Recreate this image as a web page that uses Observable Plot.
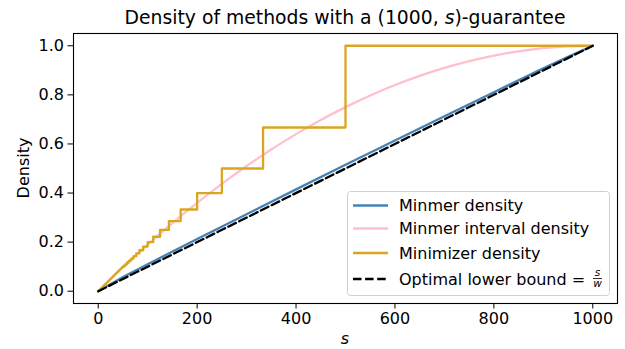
<!DOCTYPE html>
<html>
<head>
<meta charset="utf-8">
<script src="https://cdn.jsdelivr.net/npm/d3@7"></script>
<script src="https://cdn.jsdelivr.net/npm/@observablehq/plot@0.6"></script>
<style>
  body { margin: 0; background: #fff; }
  svg { display: block; }
  svg, svg text, svg g { font-family: "DejaVu Sans" !important; }
</style>
</head>
<body>
<div id="chart"></div>
<script>
// ---- data ----
const xTicks = [0, 200, 400, 600, 800, 1000];
const yTicks = [0.0, 0.2, 0.4, 0.6, 0.8, 1.0];

// Optimal lower bound s/w
const boundS = [0, 1000];
const boundD = [0, 1.0];

// Minmer density (slightly above the bound)
const minmerS = [0, 50, 100, 200, 300, 400, 500, 600, 700, 800, 900, 950, 1000];
const minmerD = [0, 0.058, 0.11, 0.213, 0.314, 0.415, 0.515, 0.614, 0.713, 0.811, 0.908, 0.955, 1.0];

// Minmer interval density (smooth concave curve)
const intervalS = [0, 50, 100, 150, 200, 250, 300, 350, 400, 450, 500, 550, 600, 650, 700, 750, 800, 850, 900, 950, 1000];
const intervalD = [0, 0.0975, 0.19, 0.2775, 0.36, 0.4375, 0.51, 0.5775, 0.64, 0.6975, 0.75, 0.7975, 0.84, 0.8775, 0.91, 0.9375, 0.96, 0.9775, 0.99, 0.9975, 1.0];

// Minimizer density: near-linear ramp for small s, then visible steps
const rampS = [0, 50];
const rampD = [0, 0.1];
const stepS = [50, 52.6, 55.6, 58.8, 62.5, 66.7, 71.4, 76.9, 83.3, 90.9, 100, 111.1, 125, 142.9, 166.7, 200, 250, 333.3, 500, 1000];
const stepD = [0.1, 0.105, 0.111, 0.118, 0.125, 0.133, 0.143, 0.154, 0.167, 0.182, 0.2, 0.222, 0.25, 0.286, 0.333, 0.4, 0.5, 0.667, 1.0, 1.0];

const legendLabels = ["Minmer density", "Minmer interval density", "Minimizer density", "Optimal lower bound = "];
const colors = {minmer: "#4682b4", interval: "#ffc0cb", minimizer: "#daa520", bound: "#000000"};

const zip = (xs, ys) => xs.map((x, i) => ({x, y: ys[i]}));

const W = 625, H = 349;
const mL = 73, mR = 8, mT = 33, mB = 46;
const lw = 2.3;
const dash = "8.5,3.6";
const FF = "DejaVu Sans";
const FS = 16;

const chart = Plot.plot({
  width: W,
  height: H,
  marginLeft: mL,
  marginRight: mR,
  marginTop: mT,
  marginBottom: mB,
  style: {fontFamily: FF, fontSize: FS + "px", color: "#000", background: "#fff"},
  x: {domain: [-50, 1050], label: null},
  y: {domain: [-0.05, 1.05], label: null},
  marks: [
    Plot.line(zip(minmerS, minmerD), {x: "x", y: "y", stroke: colors.minmer, strokeWidth: lw}),
    Plot.line(zip(intervalS, intervalD), {x: "x", y: "y", stroke: colors.interval, strokeWidth: lw, curve: "natural"}),
    Plot.line(zip(rampS, rampD), {x: "x", y: "y", stroke: colors.minimizer, strokeWidth: lw}),
    Plot.line(zip(stepS, stepD), {x: "x", y: "y", stroke: colors.minimizer, strokeWidth: lw, curve: "step-after"}),
    Plot.line(zip(boundS, boundD), {x: "x", y: "y", stroke: colors.bound, strokeWidth: lw, strokeDasharray: dash}),
    Plot.frame({stroke: "#000", strokeWidth: 1.1}),
    Plot.axisX({ticks: xTicks, tickSize: 5.5, tickPadding: 4, tickFormat: d => String(d), fontSize: FS, label: null}),
    Plot.axisY({ticks: yTicks, tickSize: 5.5, tickPadding: 4, tickFormat: d => d.toFixed(1), fontSize: FS, label: null})
  ]
});

document.getElementById("chart").appendChild(chart);

const svg = d3.select(chart);
// Title
svg.append("text")
  .attr("x", (mL + W - mR) / 2).attr("y", 24)
  .attr("text-anchor", "middle")
  .attr("font-family", FF)
  .attr("font-size", 18.8)
  .attr("fill", "#000")
  .call(t => {
    t.append("tspan").text("Density of methods with a (1000, ");
    t.append("tspan").attr("font-style", "italic").text("s");
    t.append("tspan").text(")-guarantee");
  });
// Y label
svg.append("text")
  .attr("transform", `translate(29, ${(mT + H - mB) / 2}) rotate(-90)`)
  .attr("text-anchor", "middle")
  .attr("font-family", FF)
  .attr("font-size", FS)
  .attr("fill", "#000")
  .text("Density");
// X label
svg.append("text")
  .attr("x", (mL + W - mR) / 2).attr("y", 344)
  .attr("text-anchor", "middle")
  .attr("font-family", FF)
  .attr("font-size", FS)
  .attr("font-style", "italic")
  .attr("fill", "#000")
  .text("s");

// Legend
const lg = svg.append("g").attr("text-anchor", "start").attr("font-family", FF);
lg.append("rect")
  .attr("x", 347.5).attr("y", 191.5).attr("width", 262).attr("height", 104)
  .attr("rx", 3).attr("fill", "#fff").attr("fill-opacity", 0.85)
  .attr("stroke", "#d0d0d0").attr("stroke-width", 1);
const rowsY = [205.5, 228.5, 253, 279];
const rowColors = [colors.minmer, colors.interval, colors.minimizer, colors.bound];
legendLabels.forEach((lab, i) => {
  const ln = lg.append("line")
    .attr("x1", 353).attr("x2", 388).attr("y1", rowsY[i]).attr("y2", rowsY[i])
    .attr("stroke", rowColors[i]).attr("stroke-width", lw);
  if (i === 3) ln.attr("stroke-dasharray", dash);
  lg.append("text")
    .attr("x", 399).attr("y", rowsY[i]).attr("dy", "0.36em")
    .attr("text-anchor", "start")
    .attr("font-size", FS).attr("fill", "#000")
    .text(lab);
});
// fraction s / w
const fx = 597.5;
lg.append("text").attr("x", fx).attr("y", 276).attr("text-anchor", "middle")
  .attr("font-size", 10.5).attr("font-style", "italic").attr("fill", "#000").text("s");
lg.append("line").attr("x1", fx - 4.5).attr("x2", fx + 4.5).attr("y1", 278.5).attr("y2", 278.5)
  .attr("stroke", "#000").attr("stroke-width", 0.8);
lg.append("text").attr("x", fx).attr("y", 287).attr("text-anchor", "middle")
  .attr("font-size", 10.5).attr("font-style", "italic").attr("fill", "#000").text("w");
</script>
</body>
</html>
